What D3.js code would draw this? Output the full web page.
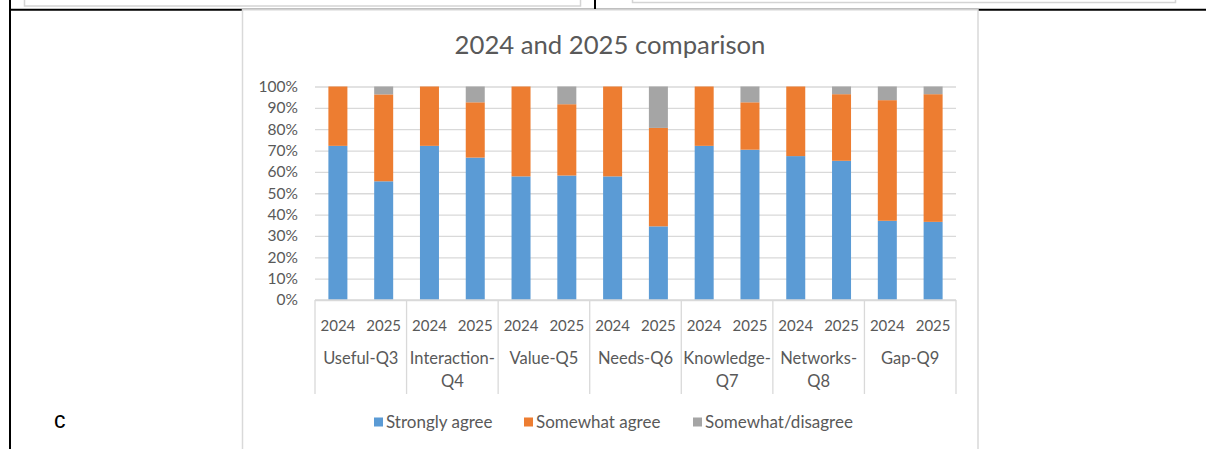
<!DOCTYPE html>
<html>
<head>
<meta charset="utf-8">
<script src="https://cdn.jsdelivr.net/npm/d3@7"></script>
<style>
  body { margin: 0; background: #fff; }
  svg { display: block; }
  text { font-family: Lato, "Open Sans", sans-serif; }
</style>
</head>
<body>
<script>
// categories and series (percent of responses)
const categories = ["Useful-Q3", "Interaction-Q4", "Value-Q5", "Needs-Q6", "Knowledge-Q7", "Networks-Q8", "Gap-Q9"];
const categoryLines = [["Useful-Q3"], ["Interaction-", "Q4"], ["Value-Q5"], ["Needs-Q6"], ["Knowledge-", "Q7"], ["Networks-", "Q8"], ["Gap-Q9"]];
const years = ["2024", "2025"];
const seriesNames = ["Strongly agree", "Somewhat agree", "Somewhat/disagree"];
// order: Useful 2024, Useful 2025, Interaction 2024, ...
const stronglyAgree = [72.2, 55.6, 72.2, 66.7, 57.9, 58.3, 57.9, 34.5, 72.2, 70.4, 67.4, 65.2, 37.1, 36.6];
const somewhatAgree = [27.8, 40.7, 27.8, 25.9, 42.1, 33.4, 42.1, 46.1, 27.8, 22.2, 32.6, 31.2, 56.5, 59.8];
const disagree      = [0, 3.7, 0, 7.4, 0, 8.3, 0, 19.4, 0, 7.4, 0, 3.6, 6.4, 3.6];
const yTicks = [0, 10, 20, 30, 40, 50, 60, 70, 80, 90, 100];
const colors = ["#5b9bd5", "#ed7d31", "#a5a5a5"];

const width = 1206, height = 449;
const plotLeft = 315, plotRight = 956, plotTop = 86.5, plotBottom = 300;

// build rows for the stack
let rows = [];
categories.forEach((c, i) => {
    years.forEach((yr, j) => {
        let k = i * 2 + j;
        rows.push({ cat: c, year: yr, s0: stronglyAgree[k], s1: somewhatAgree[k], s2: disagree[k] });
    });
});

var svg = d3.select("body").append("svg")
    .attr("width", width)
    .attr("height", height);

svg.append("rect").attr("width", width).attr("height", height).attr("fill", "#fff");

// page surroundings (document table lines)
svg.append("rect").attr("x", 24.5).attr("y", -10).attr("width", 556).attr("height", 16)
    .attr("fill", "none").attr("stroke", "#d4d4d4").attr("stroke-width", 1.5);
svg.append("rect").attr("x", 632.5).attr("y", -10).attr("width", 543).attr("height", 12.5)
    .attr("fill", "none").attr("stroke", "#d4d4d4").attr("stroke-width", 1.5);
svg.append("line").attr("x1", 9).attr("x2", width).attr("y1", 9.8).attr("y2", 9.8)
    .attr("stroke", "#000").attr("stroke-width", 2);
svg.append("line").attr("x1", 10).attr("x2", 10).attr("y1", 0).attr("y2", height)
    .attr("stroke", "#000").attr("stroke-width", 2);
svg.append("line").attr("x1", 595).attr("x2", 595).attr("y1", 0).attr("y2", 10)
    .attr("stroke", "#000").attr("stroke-width", 2);
svg.append("text").attr("x", 54).attr("y", 428)
    .style("font-family", "'Liberation Sans', Arial, sans-serif")
    .style("font-size", "23px").attr("fill", "#000").text("c");

// chart area
svg.append("rect").attr("x", 242.5).attr("y", 9.8).attr("width", 735.5).attr("height", 460)
    .attr("fill", "#fff").attr("stroke", "#d9d9d9").attr("stroke-width", 1.5);

svg.append("text").attr("x", 610).attr("y", 53.5).attr("text-anchor", "middle")
    .style("font-size", "25.7px").attr("fill", "#595959").text("2024 and 2025 comparison");

const x0 = d3.scaleBand().domain(categories).range([plotLeft, plotRight]).padding(0);
const x1 = d3.scaleBand().domain(years).range([0, x0.bandwidth()]).paddingInner(0.585).paddingOuter(0.2925);
const y = d3.scaleLinear().domain([0, 100]).range([plotBottom, plotTop]);

// gridlines
const grid = svg.append("g").attr("transform", "translate(" + plotLeft + ",0)")
    .call(d3.axisLeft(y).tickValues(yTicks).tickSize(-(plotRight - plotLeft)).tickFormat(""));
grid.select(".domain").remove();
grid.selectAll("line").attr("stroke", "#d9d9d9").attr("stroke-width", 1.3);

// y axis labels
const yAxis = svg.append("g").attr("transform", "translate(" + plotLeft + ",0)")
    .call(d3.axisLeft(y).tickValues(yTicks).tickSize(0).tickPadding(17).tickFormat(d => d + "%"));
yAxis.select(".domain").remove();
yAxis.selectAll("text").style("font-size", "15.5px").style("font-family", "Lato, sans-serif").attr("fill", "#595959");

// bars
const stack = d3.stack().keys(["s0", "s1", "s2"]);
const layers = stack(rows);

svg.append("g").selectAll("g")
    .data(layers)
    .enter().append("g")
    .attr("fill", (d, i) => colors[i])
    .selectAll("rect")
    .data(d => d)
    .enter().append("rect")
    .attr("x", d => x0(d.data.cat) + x1(d.data.year))
    .attr("width", x1.bandwidth())
    .attr("y", d => y(d[1]))
    .attr("height", d => y(d[0]) - y(d[1]));

// category axis: baseline and dividers
svg.append("line").attr("x1", plotLeft).attr("x2", plotRight).attr("y1", plotBottom).attr("y2", plotBottom)
    .attr("stroke", "#d9d9d9").attr("stroke-width", 1.3);
const dividers = categories.map(c => x0(c)).concat([plotRight]);
svg.append("g").selectAll("line")
    .data(dividers)
    .enter().append("line")
    .attr("x1", d => d).attr("x2", d => d)
    .attr("y1", plotBottom).attr("y2", 394)
    .attr("stroke", "#d9d9d9").attr("stroke-width", 1.3);

// year labels
svg.append("g").selectAll("text")
    .data(rows)
    .enter().append("text")
    .attr("x", d => x0(d.cat) + x1(d.year) + x1.bandwidth() / 2)
    .attr("y", 331)
    .attr("text-anchor", "middle")
    .style("font-size", "15px").attr("fill", "#595959")
    .text(d => d.year);

// category labels
const catLabels = svg.append("g").selectAll("text")
    .data(categories)
    .enter().append("text")
    .attr("x", d => x0(d) + x0.bandwidth() / 2)
    .attr("y", 363.5)
    .attr("text-anchor", "middle")
    .style("font-size", "16.5px").attr("fill", "#595959");
catLabels.selectAll("tspan")
    .data((d, i) => categoryLines[i])
    .enter().append("tspan")
    .attr("x", function () { return d3.select(this.parentNode).attr("x"); })
    .attr("dy", (d, i) => i === 0 ? 0 : 23)
    .text(d => d);

// legend
const legendX = [374, 524, 693];
const legend = svg.append("g").selectAll("g")
    .data(seriesNames)
    .enter().append("g")
    .attr("transform", (d, i) => "translate(" + legendX[i] + ",422)");
legend.append("rect").attr("x", 0).attr("y", -4.5).attr("width", 9).attr("height", 9)
    .attr("fill", (d, i) => colors[i]);
legend.append("text").attr("x", 12).attr("y", 5.5)
    .style("font-size", "17px").attr("fill", "#595959")
    .text(d => d);
</script>
</body>
</html>
